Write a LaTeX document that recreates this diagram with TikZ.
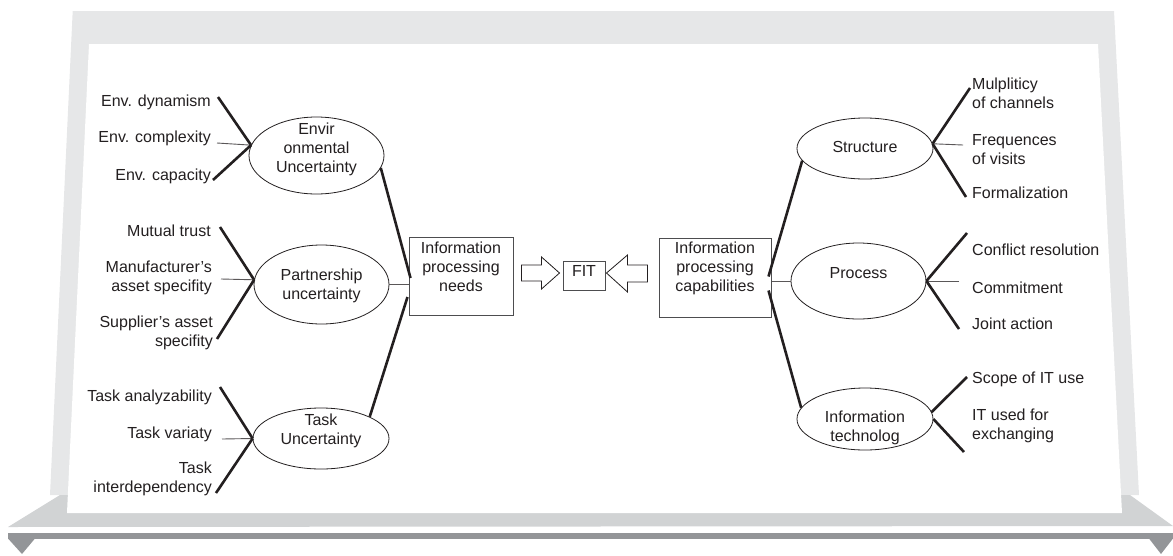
\documentclass[tikz,border=0pt]{standalone}
\usepackage{fontspec}
\setmainfont{Liberation Sans}
\usetikzlibrary{shapes.geometric,calc}
\definecolor{ink}{HTML}{231F20}
\definecolor{boxgray}{HTML}{4D4D4F}
\definecolor{framegray}{HTML}{E6E7E8}
\definecolor{shelfgray}{HTML}{D1D3D4}
\definecolor{bargray}{HTML}{939598}
\begin{document}
\begin{tikzpicture}[x=1pt,y=-1pt,
  txt/.style={font=\fontsize{16}{19}\selectfont, text=ink, inner sep=0pt},
  lbll/.style={txt, anchor=east, align=right},
  lblr/.style={txt, anchor=west, align=left},
  ctext/.style={txt, align=center},
  ell/.style={draw=ink, line width=0.8pt, ellipse, inner sep=0pt},
  boxn/.style={draw=boxgray, line width=1pt, inner sep=0pt},
  thickl/.style={draw=ink, line width=2.6pt},
  thinl/.style={draw=ink!75, line width=0.9pt},
  barrow/.style={draw=ink, line width=0.8pt, fill=white, line join=miter}]

\useasboundingbox (0,0) rectangle (1173,555);

% ---------- frame ----------
\fill[framegray] (72.7,11) -- (1114,11) -- (1139,495) -- (50,495) -- cycle;
\fill[shelfgray] (60,495) -- (1130,495) -- (1173,526) -- (8,527) -- cycle;
\fill[white] (89,44) -- (1098,44) -- (1122,513) -- (67,513) -- cycle;
\fill[bargray] (8,533) rectangle (1173,539);
\fill[bargray] (8,538.5) -- (35,538.5) -- (22,554) -- cycle;
\fill[bargray] (1149,538.5) -- (1173,538.5) -- (1161,554) -- cycle;

% ---------- ellipses ----------
\node[ell, minimum width=135pt, minimum height=77pt] (env) at (316.5,155.5) {};
\node[ctext] (envt) at (316.5,149) {Envir\\onmental\\Uncertainty};
\node[ell, minimum width=135pt, minimum height=79pt] (part) at (321.5,284.5) {};
\node[ctext] (partt) at (321.5,285.5) {Partnership\\uncertainty};
\node[ell, minimum width=136pt, minimum height=61pt] (task) at (321,438.5) {};
\node[ctext] (taskt) at (321,431) {Task\\Uncertainty};

\node[ell, minimum width=136pt, minimum height=61pt] (struct) at (865,148.5) {};
\node[ctext] (structt) at (865,147) {Structure};
\node[ell, minimum width=135pt, minimum height=76pt] (proc) at (858.5,281) {};
\node[ctext] (proct) at (858.5,273) {Process};
\node[ell, minimum width=136pt, minimum height=62pt] (it) at (865,419) {};
\node[ctext] (itt) at (865,428) {Information\\technolog};

% ---------- boxes ----------
\node[boxn, minimum width=104pt, minimum height=78pt] (needs) at (461,276) {};
\node[ctext] (needst) at (461,266.5) {Information\\processing\\needs};
\node[boxn, minimum width=42pt, minimum height=29pt, txt, text height=11.5pt, text depth=9pt] (fit) at (584,275.5) {FIT};
\node[boxn, minimum width=112pt, minimum height=79pt] (caps) at (715,277.5) {};
\node[ctext] (capst) at (715,268.5) {Information\\processing\\capabilities};

% ---------- block arrows ----------
\path let \p1=(fit.west) in
  [barrow] (\x1-3pt,273) coordinate (ra-tip) -- ++(-18,-16) -- ++(0,8) -- ++(-20,0) -- ++(0,16) -- ++(20,0) -- ++(0,8) -- cycle;
\path let \p1=(fit.east) in
  [barrow] (\x1+1pt,273) coordinate (la-tip) -- ++(21,-18) -- ++(0,10) -- ++(20,0) -- ++(0,17) -- ++(-20,0) -- ++(0,10) -- cycle;

% ---------- left labels ----------
\node[lbll] (l1) at (211,102) {Env. dynamism};
\node[lbll] (l2) at (211,138) {Env. complexity};
\node[lbll] (l3) at (211,176) {Env. capacity};
\node[lbll] (l4) at (211,231) {Mutual trust};
\node[lbll] (l5) at (212,277.5) {Manufacturer’s\\asset specifity};
\node[lbll] (l6) at (213,333) {Supplier’s asset\\specifity};
\node[lbll] (l7) at (212,397) {Task analyzability};
\node[lbll] (l8) at (212,434) {Task variaty};
\node[lbll] (l9) at (212,479) {Task\\interdependency};

% ---------- right labels ----------
\node[lblr] (r1) at (972,93) {Mulpliticy\\of channels};
\node[lblr] (r2) at (972,149.5) {Frequences\\of visits};
\node[lblr] (r3) at (972,193) {Formalization};
\node[lblr] (r4) at (972,250) {Conflict resolution};
\node[lblr] (r5) at (972,288) {Commitment};
\node[lblr] (r6) at (972,324) {Joint action};
\node[lblr] (r7) at (972,379) {Scope of IT use};
\node[lblr] (r8) at (972,426) {IT used for\\exchanging};

% ---------- free ends of fans ----------
\coordinate (e1) at (218,97);
\coordinate (e2) at (217,143);
\coordinate (e3) at (213,180);
\coordinate (p1) at (220,227);
\coordinate (p2) at (221,279);
\coordinate (p3) at (217,339);
\coordinate (t1) at (220,387);
\coordinate (t2) at (222,439);
\coordinate (t3) at (216,493);
\coordinate (s1) at (970,88);
\coordinate (s2) at (963,145);
\coordinate (s3) at (966,197);
\coordinate (c1) at (967,233);
\coordinate (c2) at (959,281);
\coordinate (c3) at (959,329);
\coordinate (i1) at (967,377);
\coordinate (i2) at (964,452);

% ---------- fans ----------
\draw[thickl] (e1) -- (env.171);
\draw[thinl]  (e2) -- (env.171);
\draw[thickl] (e3) -- (env.171);
\draw[thickl] (p1) -- (part.176);
\draw[thinl]  (p2) -- (part.176);
\draw[thickl] (p3) -- (part.176);
\draw[thickl] (t1) -- (task.west);
\draw[thinl]  (t2) -- (task.west);
\draw[thickl] (t3) -- (task.west);

\draw[thickl] (s1) -- (struct.4);
\draw[thinl]  (s2) -- (struct.4);
\draw[thickl] (s3) -- (struct.4);
\draw[thickl] (c1) -- (proc.east);
\draw[thinl]  (c2) -- (proc.east);
\draw[thickl] (c3) -- (proc.east);
\draw[thickl] (i1) -- (it.6);
\draw[thickl] (i2) -- (it.east);

% ---------- links to boxes ----------
\draw[thickl] (env.-11) -- ($(needs.west)+(2,2)$);
\draw[thinl]  (part.east) -- (part.east -| needs.west);
\draw[thickl] ($(needs.west)+(-1,21)$) -- (task.24);

\draw[thickl] (struct.191) -- ($(caps.east)+(-3,-1)$);
\draw[thinl]  (proc.west) -- (proc.west -| caps.east);
\draw[thickl] ($(caps.east)+(-3,13)$) -- (it.170);
\end{tikzpicture}
\end{document}
